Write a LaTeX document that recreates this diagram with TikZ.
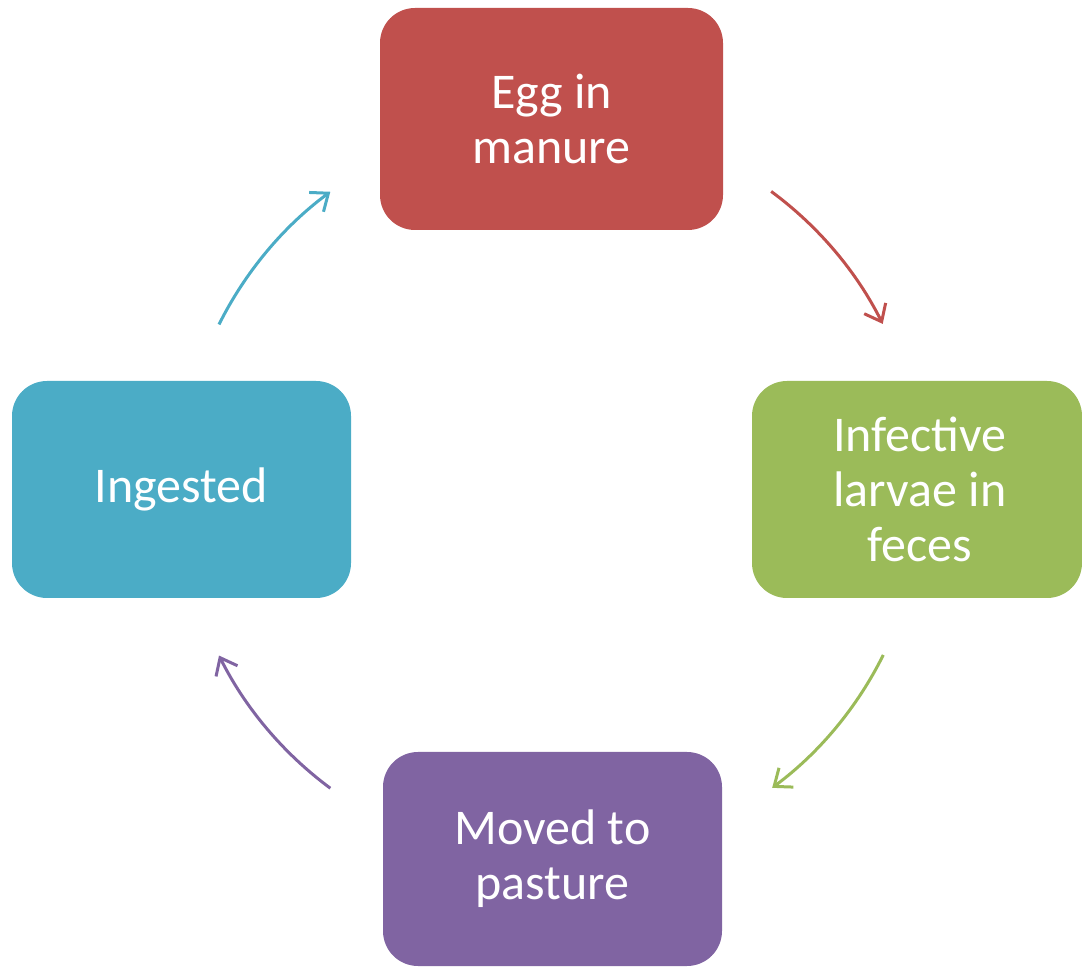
\documentclass[tikz,border=0pt]{standalone}
\usepackage{fontspec}
\setmainfont{Carlito}
\usetikzlibrary{arrows.meta}
\definecolor{cred}{HTML}{C0504D}
\definecolor{cgreen}{HTML}{9BBB59}
\definecolor{cblue}{HTML}{4BACC6}
\definecolor{cpurple}{HTML}{8064A2}
\tikzset{
  box/.style={rectangle, rounded corners=35pt, inner sep=0pt, text=white, align=center,
    font=\fontsize{50pt}{55pt}\selectfont},
  arr/.style={line width=3pt, -{Straight Barb[length=15pt,width=24pt]}}
}
\begin{document}
\begin{tikzpicture}[x=1pt,y=1pt]
\useasboundingbox (0,0) rectangle (1082,967);
\node[box, fill=cred, minimum width=343pt, minimum height=222pt] (egg) at (551.5,848) {Egg in\\manure};
\node[box, fill=cgreen, minimum width=330pt, minimum height=217pt] (larvae) at (917,477.5) {\hspace*{6pt}Infective\\\hspace*{6pt}larvae in\\\hspace*{6pt}feces};
\node[box, fill=cblue, minimum width=339pt, minimum height=217pt] (ingested) at (181.5,477.5) {Ingested};
\node[box, fill=cpurple, minimum width=339pt, minimum height=214pt] (moved) at (552.5,108) {Moved to\\pasture};
\coordinate (C) at (551,477);
\path (C) ++(53.6:371pt) coordinate (a1);
\path (C) ++(-26.4:371pt) coordinate (a2);
\path (C) ++(-126.5:371pt) coordinate (a3);
\path (C) ++(153.5:371pt) coordinate (a4);
\draw[arr, cred] (a1) arc[start angle=53.6, end angle=26.6, radius=371pt];
\draw[arr, cgreen] (a2) arc[start angle=-26.4, end angle=-53.4, radius=371pt];
\draw[arr, cpurple] (a3) arc[start angle=-126.5, end angle=-153.5, radius=371pt];
\draw[arr, cblue] (a4) arc[start angle=153.5, end angle=126.5, radius=371pt];
\end{tikzpicture}
\end{document}
